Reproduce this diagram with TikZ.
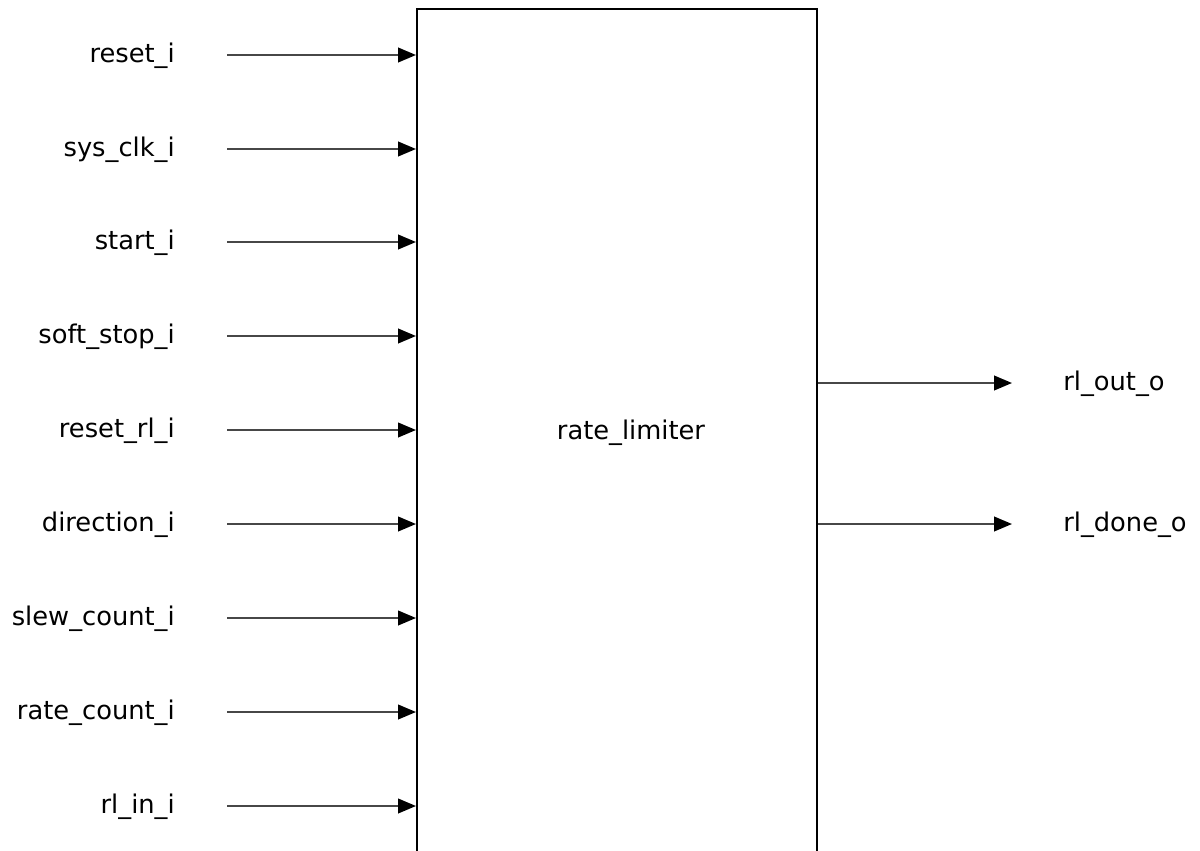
\documentclass[tikz,border=0pt]{standalone}
\usepackage{fontspec}
\setmainfont{DejaVu Sans}
\usetikzlibrary{arrows.meta,calc}
\begin{document}
\begin{tikzpicture}[x=0.75pt,y=-0.75pt,
  lbl/.style={inner sep=0pt,font=\fontsize{19.3}{22}\selectfont},
  wire/.style={draw=black!72,line width=1.5pt,-{Triangle[length=13.5pt,width=11pt,color=black]}},
  blk/.style={draw=black,line width=1.5pt,minimum width=400*0.75pt,minimum height=880*0.75pt,inner sep=0pt}]
\useasboundingbox (0,0) rectangle (1200,850);
\clip (0,0) rectangle (1200,850);
\node[blk,anchor=north west] (rl) at (416,8) {};
\node[lbl,anchor=base] (title) at (631,439) {rate\_limiter};
\foreach \n/\t/\y in {a/reset\_i/55, b/sys\_clk\_i/149, c/start\_i/242, d/soft\_stop\_i/336, e/reset\_rl\_i/430, f/direction\_i/524, g/slew\_count\_i/618, h/rate\_count\_i/712, k/rl\_in\_i/806}{
  \node[lbl,anchor=base east] (l\n) at (175,\y+7.5) {\t};
  \coordinate (s\n) at (227,\y);
  \draw[wire] (s\n) -- (s\n -| rl.west);
}
\node[lbl,anchor=base west] (o1) at (1063,390.5) {rl\_out\_o};
\node[lbl,anchor=base west] (o2) at (1063,531.5) {rl\_done\_o};
\coordinate (e1) at (1012,383);
\coordinate (e2) at (1012,524);
\draw[wire] (e1 -| rl.east) -- (e1);
\draw[wire] (e2 -| rl.east) -- (e2);
\end{tikzpicture}
\end{document}
